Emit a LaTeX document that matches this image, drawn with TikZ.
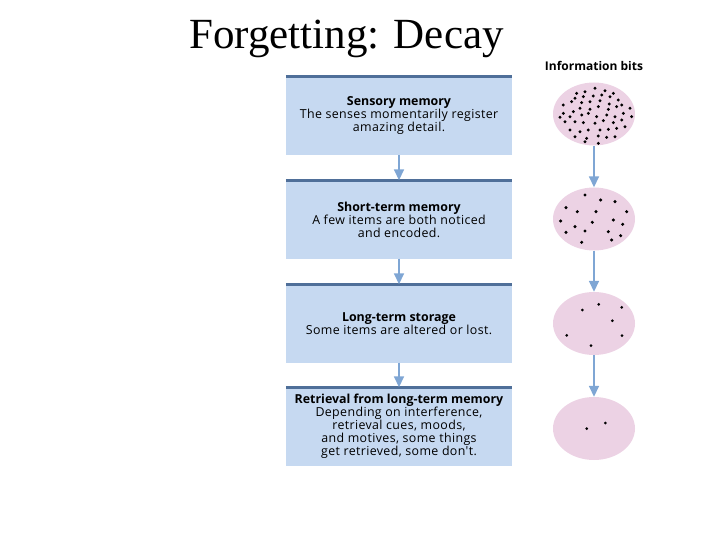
\documentclass[tikz,border=0pt]{standalone}
\usepackage{fontspec}
\setmainfont{Liberation Serif}
\newfontfamily\boxfont[LetterSpace=3,BoldFeatures={LetterSpace=0}]{Open Sans}
\newfontfamily\headfont{Open Sans}
\usetikzlibrary{arrows.meta,shapes.geometric}
\definecolor{boxfill}{HTML}{C6D9F1}
\definecolor{boxtop}{HTML}{4F6F99}
\definecolor{arrcol}{HTML}{7FA6D4}
\definecolor{blobcol}{HTML}{ECD2E4}
\tikzset{
  membox/.style={fill=boxfill, minimum width=226pt, minimum height=78pt, inner sep=0pt,
    align=center, font=\boxfont\fontsize{12.4}{13}\selectfont},
  blob/.style={ellipse, fill=blobcol, minimum width=82pt, minimum height=63pt, inner sep=0pt},
  arr/.style={draw=arrcol, line width=1.6pt, -{Triangle[width=10pt,length=11pt]}},
  topline/.style={draw=boxtop, line width=2.6pt},
  dot/.style={fill=black}
}
\begin{document}
\begin{tikzpicture}[x=1pt,y=-1pt]
\useasboundingbox (0,0) rectangle (720,540);
\node[anchor=base west, font=\fontsize{43}{50}\selectfont, inner sep=0pt] (title) at (189,49) {Forgetting: Decay};
% boxes
\node[membox] (b1) at (399,116) {\textbf{Sensory memory}\\The senses momentarily register\\amazing detail.};
\node[membox] (b2) at (399,219.5) {\textbf{Short-term memory}\\A few items are both noticed\\and encoded.};
\node[membox] (b3) at (399,323.5) {\textbf{Long-term storage}\\Some items are altered or lost.};
\node[membox] (b4) at (399,426.5) {\textbf{Retrieval from long-term memory}\\Depending on interference,\\retrieval cues, moods,\\and motives, some things\\get retrieved, some don't.};
\foreach \b in {b1,b2,b3,b4} {\draw[topline] (\b.north west) -- (\b.north east);}
\draw[arr] (b1.south) -- (b2.north);
\draw[arr] (b2.south) -- (b3.north);
\draw[arr] (b3.south) -- (b4.north);
% information bits
\node[font=\headfont\bfseries\fontsize{12}{14}\selectfont, inner sep=0pt] (ib) at (594,66) {Information bits};
\node[blob] (e1) at (594,114) {};
\node[blob] (e2) at (594,219) {};
\node[blob] (e3) at (594,323.5) {};
\node[blob] (e4) at (594,428.5) {};
\draw[arr] (e1.south) -- (e2.north);
\draw[arr] (e2.south) -- (e3.north);
\draw[arr] (e3.south) -- (e4.north);
% dots ellipse 1
\foreach \a/\b in {80/40,105/35,135/25,165/32,190/40,75/55,100/50,130/48,155/45,180/50,205/60,40/75,65/65,95/68,120/65,150/62,178/72,215/75,40/100,70/95,90/85,120/88,145/80,175/88,200/80,240/85,30/112,60/110,95/105,115/100,140/110,170/105,195/110,220/100,245/110,45/125,75/125,100/128,135/130,160/122,190/128,215/120,60/150,90/155,115/150,150/150,175/148,200/145,225/140,75/170,110/175,145/168,170/172,195/170,105/185,145/190}
  {\fill[dot] ({550+\a/3},{80+\b/3}) circle (1.6pt);}
% dots ellipse 2
\foreach \a/\b in {105/30,152/45,195/50,48/68,82/80,138/80,230/80,32/108,75/125,127/112,190/105,218/118,48/142,105/138,175/140,212/152,95/172,185/165}
  {\fill[dot] ({550+\a/3},{185+\b/3}) circle (1.7pt);}
% dots ellipse 3
\foreach \x/\y in {582.3/310,598.7/304.3,621.7/307.3,612.3/320.7,566.7/335.3,622/335.7,591/345.7}
  {\fill[dot] (\x,\y) circle (1.5pt);}
% dots ellipse 4
\foreach \x/\y in {586.7/428.7,605.3/423}
  {\fill[dot] (\x,\y) circle (1.5pt);}
\end{tikzpicture}
\end{document}
